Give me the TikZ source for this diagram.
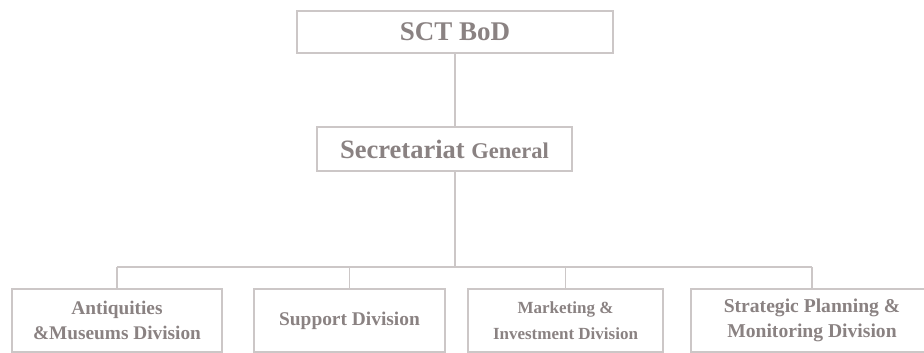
\documentclass[tikz,border=0pt]{standalone}
\usepackage{fontspec}
\setmainfont{Liberation Serif}
\usetikzlibrary{positioning}
\definecolor{boxgray}{RGB}{204,199,199}
\definecolor{inkgray}{RGB}{138,130,130}

\begin{document}
\begin{tikzpicture}[
      x=1pt, y=-1pt,
      unit/.style={
        draw=boxgray, line width=1.7pt, inner sep=0pt,
        text=inkgray, font=\bfseries, align=center
      },
      link/.style={draw=boxgray, line width=1.5pt}
    ]
      \useasboundingbox (0,0) rectangle (924,353);
      \clip (0,0) rectangle (924,353);

      \node[unit, minimum width=316pt, minimum height=42pt,
        font=\bfseries\fontsize{27}{30}\selectfont] (bod) at (455,32){SCT BoD};
      \node[unit, minimum width=255pt, minimum height=44pt,
        font=\bfseries\fontsize{26.5}{30}\selectfont] (sg) at (444.5,149)
        {Secretariat {\fontsize{22.5}{26}\selectfont General}};

      \foreach \name/\cx/\w/\fs/\txt in {
          ant/117/210/19.3/{Antiquities\\\&Museums Division},
          sup/349.5/191/19.4/{Support Division},
          mkt/565.5/195/17/{Marketing \&\\Investment Division},
          spm/812/242/19.6/{Strategic Planning \&\\Monitoring Division}} {
        \node[unit, minimum width=\w pt, minimum height=63pt,
          font=\bfseries\fontsize{\fs}{25.5}\selectfont] (\name) at (\cx,320.5){\txt};
      }

      \coordinate (bus) at (455,267);
      \draw[link] (bod.south) -- (bod.south |- sg.north);
      \draw[link] (bod.south |- sg.south) -- (bus);
      \draw[link] (ant.north |- bus) -- (spm.north |- bus);
      \foreach \name in {ant,sup,mkt,spm} {
        \draw[link] (\name.north |- bus) -- (\name.north);
      }
    \end{tikzpicture}
\end{document}
